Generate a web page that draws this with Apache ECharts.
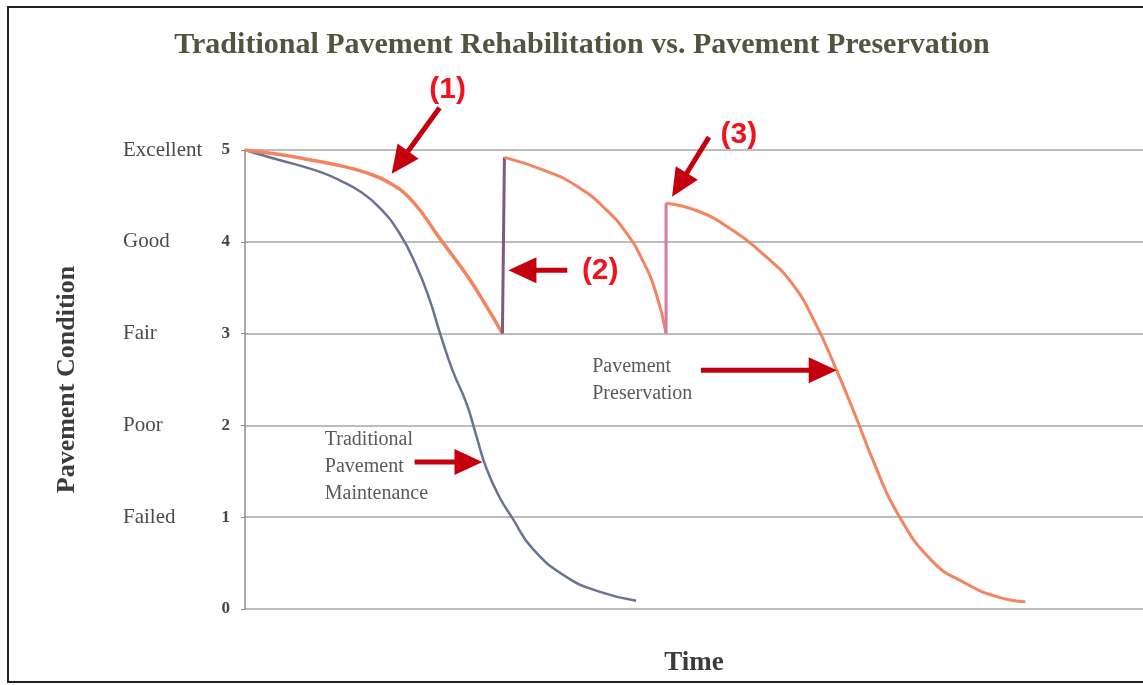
<!DOCTYPE html>
<html>
<head>
<meta charset="utf-8">
<script src="https://cdn.jsdelivr.net/npm/echarts@6/dist/echarts.min.js"></script>
<style>
  html, body { margin: 0; padding: 0; background: #fff; }
  #chart { width: 1143px; height: 685px; }
</style>
</head>
<body>
<div id="chart"></div>
<script>
// condition scale (0 = nothing, 5 = excellent)
const yTicks = [0, 1, 2, 3, 4, 5]
const conditionNames = ["", "Failed", "Poor", "Fair", "Good", "Excellent"]

// traditional maintenance: [time, condition]
const traditional = [
  [0, 5], [2.8, 4.91], [5.5, 4.83], [7.8, 4.75], [9.5, 4.67], [11.5, 4.55],
  [13.5, 4.37], [15.5, 4.09], [17.2, 3.73], [18.5, 3.37], [19.5, 3.02],
  [20.8, 2.6], [22.2, 2.24], [23.2, 1.88], [24.2, 1.53], [25.5, 1.22],
  [26.8, 0.99], [28.8, 0.66], [32.2, 0.35], [35.5, 0.19], [39.2, 0.09],
]

// preservation curve, split at each treatment
const preserveA = [
  [0, 5], [3.5, 4.95], [6.2, 4.9], [9.5, 4.83], [12.2, 4.75], [14.5, 4.64],
  [16.8, 4.44], [19.5, 4.04], [22.2, 3.64], [24.3, 3.28], [25.8, 3.0],
]
const treatment1 = [[25.8, 3.0], [26.0, 4.92]]
const preserveB = [
  [26.0, 4.92], [30.2, 4.77], [33.5, 4.59], [36.2, 4.35], [38.2, 4.1],
  [39.8, 3.81], [41.2, 3.44], [42.2, 3.0],
]
const treatment2 = [[42.2, 3.0], [42.2, 4.42]]
const preserveC = [
  [42.2, 4.42], [45.5, 4.33], [48.8, 4.13], [52.2, 3.84], [54.8, 3.55],
  [57.0, 3.15], [59.3, 2.6], [61.2, 2.1], [63.2, 1.55], [65.3, 1.06],
  [68.8, 0.53], [72.2, 0.28], [75.5, 0.13], [78.2, 0.08],
]

// callout arrows: [from, tip]
const arrows = [
  [[19.5, 5.46], [14.7, 4.74]],
  [[32.3, 3.69], [26.4, 3.69]],
  [[46.5, 5.14], [42.8, 4.49]],
  [[45.7, 2.6], [59.3, 2.6]],
  [[17.0, 1.6], [23.8, 1.6]],
]
const callouts = [
  { text: "(1)", at: [20.3, 5.66] },
  { text: "(2)", at: [35.6, 3.69] },
  { text: "(3)", at: [49.5, 5.17] },
]
const notes = [
  { text: "Traditional\nPavement\nMaintenance", at: [8.0, 1.55] },
  { text: "Pavement\nPreservation", at: [34.8, 2.49] },
]

const serif = "'Liberation Serif', 'DejaVu Serif', serif"
const orange = "#f2845f"
const arrowRed = "#c4000f"

const chart = echarts.init(document.getElementById("chart"))

const lineSeries = (data, color, width) => ({
  type: "line",
  data: data,
  smooth: 0.5,
  symbol: "none",
  lineStyle: { color: color, width: width },
  z: 3,
})

const option = {
  backgroundColor: "#fff",
  animation: false,
  title: {
    text: "Traditional Pavement Rehabilitation vs. Pavement Preservation",
    left: 577,
    textAlign: "center",
    top: 25,
    textStyle: {
      fontFamily: serif,
      fontSize: 30,
      fontWeight: "bold",
      color: "#50553f",
    },
  },
  grid: { left: 245, right: -2, top: 150, bottom: 76 },
  xAxis: {
    type: "value",
    min: 0,
    max: 90,
    axisLine: { show: false },
    axisTick: { show: false },
    axisLabel: { show: false },
    splitLine: { show: false },
    name: "Time",
    nameLocation: "middle",
    nameGap: 41,
    nameTextStyle: {
      fontFamily: serif,
      fontSize: 27,
      fontWeight: "bold",
      color: "#3c3c3c",
    },
  },
  yAxis: [
    {
      type: "value",
      min: 0,
      max: 5,
      interval: 1,
      axisLine: { show: true, lineStyle: { color: "#8c8c8c", width: 1.5 } },
      axisTick: { show: true, length: 4, lineStyle: { color: "#8c8c8c" } },
      axisLabel: {
        margin: 15,
        fontFamily: serif,
        fontSize: 17,
        fontWeight: "bold",
        color: "#444",
        formatter: (v) => String(yTicks[v]),
      },
      splitLine: { show: true, lineStyle: { color: "#a6a6a6", width: 1.5 } },
      name: "Pavement Condition",
      nameLocation: "middle",
      nameGap: 165,
      nameRotate: 90,
      nameTextStyle: {
        fontFamily: serif,
        fontSize: 26,
        fontWeight: "bold",
        color: "#3c3c3c",
      },
    },
    {
      type: "value",
      min: 0,
      max: 5,
      interval: 1,
      position: "left",
      axisLine: { show: false },
      axisTick: { show: false },
      splitLine: { show: false },
      axisLabel: {
        margin: 122,
        align: "left",
        fontFamily: serif,
        fontSize: 21,
        color: "#4a4a4a",
        formatter: (v) => conditionNames[v],
      },
    },
  ],
  series: [
    lineSeries(traditional, "#6b7393", 2.5),
    lineSeries(preserveA, orange, 3.5),
    lineSeries(treatment1, "#7d5b7a", 3),
    lineSeries(preserveB, orange, 3),
    lineSeries(treatment2, "#d27aa6", 3),
    lineSeries(preserveC, orange, 3),
  ],
}

chart.setOption(option)

// annotations placed through the chart's own scales
const toPx = (pt) => chart.convertToPixel({ gridIndex: 0 }, pt)
const headLen = 28
const headHalf = 13

const graphics = [
  {
    type: "rect",
    shape: { x: 8, y: 7, width: 1200, height: 675 },
    style: { fill: "none", stroke: "#222", lineWidth: 2 },
    silent: true,
  },
]

arrows.forEach(([from, tip]) => {
  const a = toPx(from)
  const b = toPx(tip)
  const dx = b[0] - a[0]
  const dy = b[1] - a[1]
  const len = Math.sqrt(dx * dx + dy * dy)
  const ux = dx / len
  const uy = dy / len
  const base = [b[0] - ux * headLen, b[1] - uy * headLen]
  graphics.push({
    type: "line",
    shape: { x1: a[0], y1: a[1], x2: base[0] + ux * 2, y2: base[1] + uy * 2 },
    style: { stroke: arrowRed, lineWidth: 5 },
    silent: true,
    z: 10,
  })
  graphics.push({
    type: "polygon",
    shape: {
      points: [
        b,
        [base[0] - uy * headHalf, base[1] + ux * headHalf],
        [base[0] + uy * headHalf, base[1] - ux * headHalf],
      ],
    },
    style: { fill: arrowRed },
    silent: true,
    z: 10,
  })
})

callouts.forEach((c) => {
  const p = toPx(c.at)
  graphics.push({
    type: "text",
    x: p[0],
    y: p[1],
    style: {
      text: c.text,
      fontFamily: "'Liberation Sans', Arial, sans-serif",
      fontSize: 30,
      fontWeight: "bold",
      fill: "#f0141e",
      align: "center",
      verticalAlign: "middle",
    },
    silent: true,
    z: 10,
  })
})

notes.forEach((n) => {
  const p = toPx(n.at)
  graphics.push({
    type: "text",
    x: p[0],
    y: p[1],
    style: {
      text: n.text,
      fontFamily: serif,
      fontSize: 20,
      lineHeight: 27,
      fill: "#5a5a5a",
      align: "left",
      verticalAlign: "middle",
    },
    silent: true,
    z: 10,
  })
})

chart.setOption({ graphic: graphics })
</script>
</body>
</html>
